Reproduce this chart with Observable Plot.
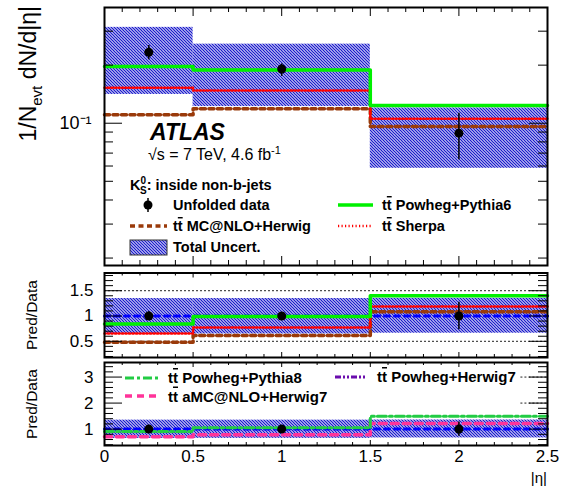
<!DOCTYPE html>
<html><head><meta charset="utf-8">
<script src="https://cdn.jsdelivr.net/npm/d3@7"></script>
<script src="https://cdn.jsdelivr.net/npm/@observablehq/plot@0.6"></script>
<style>
body{margin:0;background:#fff;}
#wrap{position:relative;width:570px;height:490px;font-family:"Liberation Sans",Arial,Helvetica,sans-serif;}
#wrap svg{position:absolute;left:0;overflow:visible;}
</style></head><body><div id="wrap"></div>
<script>
// ---------- data ----------
const binEdges = [0, 0.5, 1.5, 2.5];
const binCenters = [0.25, 1.0, 2.0];
// top panel: 1/N dN/d|eta|
const dataVal = [0.233, 0.191, 0.0888];
const dataErrLo = [0.213, 0.175, 0.0646];
const dataErrHi = [0.253, 0.203, 0.1127];
const uncLo = [0.141, 0.122, 0.0584];
const uncHi = [0.314, 0.257, 0.120];
const powhegPythia6 = [0.197, 0.189, 0.1236];
const mcatnloHerwig = [0.1105, 0.1188, 0.0962];
const sherpa = [0.1525, 0.1476, 0.1054];
// middle ratio panel
const r1Data = [1, 1, 1];
const r1DataLo = [0.914, 0.925, 0.727];
const r1DataHi = [1.086, 1.063, 1.27];
const r1UncLo = [0.645, 0.645, 0.66];
const r1UncHi = [1.345, 1.345, 1.35];
const r1PowhegPythia6 = [0.842, 0.99, 1.40];
const r1McatnloHerwig = [0.48, 0.615, 1.085];
const r1Sherpa = [0.655, 0.775, 1.19];
// bottom ratio panel
const r2Data = [1, 1, 1];
const r2DataLo = [0.914, 0.925, 0.727];
const r2DataHi = [1.086, 1.063, 1.27];
const r2UncLo = [0.645, 0.645, 0.66];
const r2UncHi = [1.345, 1.345, 1.35];
const r2PowhegPythia8 = [0.91, 1.05, 1.49];
const r2AmcatnloHerwig7 = [0.71, 0.78, 1.22];
// tick labels
const xTickLabels = [0, 0.5, 1, 1.5, 2, 2.5];
const topYTickLabels = [0.1];
const r1YTickLabels = [0.5, 1, 1.5];
const r2YTickLabels = [1, 2, 3];
const r1RefLines = [0.5, 1.5];
const r2RefLines = [2, 3];

// ---------- style ----------
const FONT = "Liberation Sans, Arial, Helvetica, sans-serif";
const W = 570, FL = 104, FR = 547, FW = FR - FL;
const HATCH = "url(#hatch)";
const GREEN = "#00f000", BROWN = "#9a3a0a", RED = "#ff0000", BLUE = "#0000ff";
const GREEN2 = "#22cc44", PINK = "#ff3399", PURPLE = "#6a0dad";
const SHERPA_DASH = "1.2,2.3";

const wrap = d3.select("#wrap");
// pattern defs
const defsSvg = wrap.append("svg").attr("width", 0).attr("height", 0).style("top", "0px");
const pat = defsSvg.append("defs").append("pattern").attr("id", "hatch")
  .attr("patternUnits", "userSpaceOnUse").attr("width", 3).attr("height", 3);
pat.append("path").attr("d", "M-1,-1 L4,4 M-1,2 L1,4 M2,-1 L4,1")
  .attr("stroke", "#1c1ccc").attr("stroke-width", 1.3);

function stepRows(vals){ return binEdges.map((x,i)=>({x, y: vals[Math.min(i, vals.length-1)]})); }
function binRows(lo, hi){ return lo.map((l,i)=>({x1: binEdges[i], x2: binEdges[i+1], y1: l, y2: hi[i]})); }
function pointRows(v, lo, hi){ return binCenters.map((x,i)=>({x, y: v[i], lo: lo[i], hi: hi[i]})); }

const xMajor = xTickLabels;
const xMinor = d3.range(0, 25).map(i => i / 10).filter(v => Math.abs(v * 2 - Math.round(v * 2)) > 1e-6);

function tickMarks(fh, yMaj, yMin, xLen) {
  const s = {stroke: "black", strokeWidth: 1};
  return [
    Plot.tickY(yMaj, {y: d => d, insetRight: FW - 18, ...s}),
    Plot.tickY(yMaj, {y: d => d, insetLeft: FW - 18, ...s}),
    Plot.tickY(yMin, {y: d => d, insetRight: FW - 9, ...s}),
    Plot.tickY(yMin, {y: d => d, insetLeft: FW - 9, ...s}),
    Plot.tickX(xMajor, {x: d => d, insetTop: fh - xLen[0], ...s}),
    Plot.tickX(xMajor, {x: d => d, insetBottom: fh - xLen[0], ...s}),
    Plot.tickX(xMinor, {x: d => d, insetTop: fh - xLen[1], ...s}),
    Plot.tickX(xMinor, {x: d => d, insetBottom: fh - xLen[1], ...s})
  ];
}
function place(svgNode, top) {
  svgNode.style.position = "absolute";
  svgNode.style.top = top + "px";
  svgNode.style.left = "0px";
  wrap.node().appendChild(svgNode);
}
const lineOpts = {x: "x", y: "y", curve: "step-after"};

// ---------- top panel ----------
const topH = 266, topMT = 7, topMB = 1;
const topMinor = [0.02,0.03,0.04,0.05,0.06,0.07,0.08,0.09,0.2,0.3];
const topPlot = Plot.plot({
  width: W, height: topH, marginLeft: FL, marginRight: W - FR, marginTop: topMT, marginBottom: topMB,
  style: {fontFamily: FONT, background: "transparent", overflow: "visible"},
  x: {domain: [0, 2.5], axis: null},
  y: {type: "log", domain: [0.0183, 0.398], axis: null},
  marks: [
    Plot.rect(binRows(uncLo, uncHi), {x1: "x1", x2: "x2", y1: "y1", y2: "y2", fill: HATCH}),
    Plot.line(stepRows(mcatnloHerwig), {...lineOpts, stroke: BROWN, strokeWidth: 3.5, strokeDasharray: "5,3.5"}),
    Plot.line(stepRows(sherpa), {...lineOpts, stroke: RED, strokeWidth: 2.5, strokeDasharray: SHERPA_DASH}),
    Plot.line(stepRows(powhegPythia6), {...lineOpts, stroke: GREEN, strokeWidth: 3.5}),
    Plot.ruleX(pointRows(dataVal, dataErrLo, dataErrHi), {x: "x", y1: "lo", y2: "hi", stroke: "black", strokeWidth: 1.5}),
    Plot.dot(pointRows(dataVal, dataErrLo, dataErrHi), {x: "x", y: "y", r: 4.5, fill: "black"}),
    ...tickMarks(topH - topMT - topMB, topYTickLabels, topMinor, [9, 5]),
    Plot.frame({stroke: "black", strokeWidth: 2}),
    Plot.axisY(topYTickLabels, {anchor: "left", tickSize: 0, tickPadding: 13, label: null, fontSize: 18, tickFormat: () => "10⁻¹"})
  ]
});
place(topPlot, 0);

// ---------- middle ratio panel ----------
const midTop = 270, midH = 89, midMT = 2.5, midMB = 2;
const midMinor = d3.range(2, 19).map(i => i / 10).filter(v => !r1YTickLabels.some(t => Math.abs(t - v) < 1e-6));
const midPlot = Plot.plot({
  width: W, height: midH, marginLeft: FL, marginRight: W - FR, marginTop: midMT, marginBottom: midMB,
  style: {fontFamily: FONT, background: "transparent", overflow: "visible"},
  x: {domain: [0, 2.5], axis: null},
  y: {domain: [0.18, 1.85], axis: null},
  marks: [
    Plot.ruleY(r1RefLines, {y: d => d, stroke: "#222", strokeWidth: 1, strokeDasharray: "2,2"}),
    Plot.rect(binRows(r1UncLo, r1UncHi), {x1: "x1", x2: "x2", y1: "y1", y2: "y2", fill: HATCH}),
    Plot.line(stepRows(r1Data), {...lineOpts, stroke: BLUE, strokeWidth: 3, strokeDasharray: "5,5"}),
    Plot.line(stepRows(r1McatnloHerwig), {...lineOpts, stroke: BROWN, strokeWidth: 3.5, strokeDasharray: "5,3.5"}),
    Plot.line(stepRows(r1Sherpa), {...lineOpts, stroke: RED, strokeWidth: 2.5, strokeDasharray: SHERPA_DASH}),
    Plot.line(stepRows(r1PowhegPythia6), {...lineOpts, stroke: GREEN, strokeWidth: 3.5}),
    Plot.ruleX(pointRows(r1Data, r1DataLo, r1DataHi), {x: "x", y1: "lo", y2: "hi", stroke: "black", strokeWidth: 1.5}),
    Plot.dot(pointRows(r1Data, r1DataLo, r1DataHi), {x: "x", y: "y", r: 4.5, fill: "black"}),
    ...tickMarks(midH - midMT - midMB, r1YTickLabels, midMinor, [5, 3]),
    Plot.frame({stroke: "black", strokeWidth: 2}),
    Plot.axisY(r1YTickLabels, {anchor: "left", tickSize: 0, tickPadding: 11, label: null, fontSize: 17, tickFormat: d => String(d)})
  ]
});
place(midPlot, midTop);

// ---------- bottom ratio panel ----------
const botTop = 360, botH = 130, botMT = 2, botMB = 45;
const botMinor = d3.range(2, 18).map(i => i / 5).filter(v => !r2YTickLabels.some(t => Math.abs(t - v) < 1e-6));
const botPlot = Plot.plot({
  width: W, height: botH, marginLeft: FL, marginRight: W - FR, marginTop: botMT, marginBottom: botMB,
  style: {fontFamily: FONT, background: "transparent", overflow: "visible"},
  x: {domain: [0, 2.5], axis: null},
  y: {domain: [0.37, 3.56], axis: null},
  marks: [
    Plot.ruleY(r2RefLines, {y: d => d, x1: 2.35, x2: 2.5, stroke: "#222", strokeWidth: 1, strokeDasharray: "2,2"}),
    Plot.rect(binRows(r2UncLo, r2UncHi), {x1: "x1", x2: "x2", y1: "y1", y2: "y2", fill: HATCH}),
    Plot.line(stepRows(r2Data), {...lineOpts, stroke: BLUE, strokeWidth: 3, strokeDasharray: "5,5"}),
    Plot.line(stepRows(r2AmcatnloHerwig7), {...lineOpts, stroke: PINK, strokeWidth: 3.5, strokeDasharray: "7,5"}),
    Plot.line(stepRows(r2PowhegPythia8), {...lineOpts, stroke: GREEN2, strokeWidth: 3, strokeDasharray: "9,3,3,3"}),
    Plot.ruleX(pointRows(r2Data, r2DataLo, r2DataHi), {x: "x", y1: "lo", y2: "hi", stroke: "black", strokeWidth: 1.5}),
    Plot.dot(pointRows(r2Data, r2DataLo, r2DataHi), {x: "x", y: "y", r: 4.5, fill: "black"}),
    ...tickMarks(botH - botMT - botMB, r2YTickLabels, botMinor, [5, 3]),
    Plot.frame({stroke: "black", strokeWidth: 2}),
    Plot.axisY(r2YTickLabels, {anchor: "left", tickSize: 0, tickPadding: 11, label: null, fontSize: 17, tickFormat: d => String(d)}),
    Plot.axisX(xTickLabels, {anchor: "bottom", tickSize: 0, tickPadding: 4, label: null, fontSize: 17, tickFormat: d => String(d)})
  ]
});
place(botPlot, botTop);

// ---------- overlay texts & legends ----------
const ov = wrap.append("svg").attr("width", W).attr("height", 490).style("top", "0px")
  .style("pointer-events", "none").attr("font-family", FONT);

// y titles
const yt = ov.append("text").attr("transform", "translate(36,6) rotate(-90)")
  .attr("text-anchor", "end").attr("font-size", 23).attr("fill", "black");
yt.append("tspan").text("1/N");
yt.append("tspan").attr("font-size", 15).attr("dy", 6).text("evt");
yt.append("tspan").attr("dy", -6).text(" dN/d|η|");
ov.append("text").attr("transform", "translate(37,315) rotate(-90)").attr("text-anchor", "middle")
  .attr("font-size", 15.5).text("Pred/Data");
ov.append("text").attr("transform", "translate(37,404) rotate(-90)").attr("text-anchor", "middle")
  .attr("font-size", 15.5).text("Pred/Data");
ov.append("text").attr("x", 547).attr("y", 483).attr("text-anchor", "end").attr("font-size", 15).text("|η|");

// ATLAS label
ov.append("text").attr("x", 150).attr("y", 140).attr("font-size", 23).attr("font-weight", "bold")
  .attr("font-style", "italic").text("ATLAS");
const en = ov.append("text").attr("x", 148).attr("y", 160).attr("font-size", 16);
en.append("tspan").text("√s = 7 TeV, 4.6 fb");
en.append("tspan").attr("font-size", 11).attr("dy", -6).text("-1");

// K0S header
const kh = ov.append("text").attr("x", 130).attr("y", 190).attr("font-size", 14.5).attr("font-weight", "bold");
kh.append("tspan").text("K");
kh.append("tspan").attr("font-size", 10).attr("dy", -6).text("0");
kh.append("tspan").attr("font-size", 10).attr("dx", -6).attr("dy", 10).text("S");
kh.append("tspan").attr("dy", -4).text(": inside non-b-jets");

function ttLabel(g, x, y, rest, size) {
  const t = g.append("text").attr("x", x).attr("y", y).attr("font-size", size).attr("font-weight", "bold");
  t.append("tspan").text("t");
  t.append("tspan").attr("style", "text-decoration: overline").text("t");
  t.append("tspan").text(" " + rest);
}
// top legend
ov.append("line").attr("x1", 148).attr("x2", 148).attr("y1", 198).attr("y2", 212).attr("stroke", "black").attr("stroke-width", 1.5);
ov.append("circle").attr("cx", 148).attr("cy", 205).attr("r", 4.5).attr("fill", "black");
ov.append("text").attr("x", 173).attr("y", 210).attr("font-size", 14.5).attr("font-weight", "bold").text("Unfolded data");
ov.append("line").attr("x1", 338).attr("x2", 373).attr("y1", 205).attr("y2", 205).attr("stroke", GREEN).attr("stroke-width", 3.5);
ttLabel(ov, 382, 210, "Powheg+Pythia6", 14.5);
ov.append("line").attr("x1", 130).attr("x2", 167).attr("y1", 226).attr("y2", 226).attr("stroke", BROWN).attr("stroke-width", 3.5).attr("stroke-dasharray", "5,3.5");
ttLabel(ov, 173, 231, "MC@NLO+Herwig", 14.5);
ov.append("line").attr("x1", 338).attr("x2", 373).attr("y1", 226).attr("y2", 226).attr("stroke", RED).attr("stroke-width", 2.5).attr("stroke-dasharray", SHERPA_DASH);
ttLabel(ov, 382, 231, "Sherpa", 14.5);
ov.append("rect").attr("x", 130).attr("y", 240).attr("width", 37).attr("height", 15).attr("fill", HATCH).attr("stroke", "#333").attr("stroke-width", 1);
ov.append("text").attr("x", 173).attr("y", 252).attr("font-size", 14.5).attr("font-weight", "bold").text("Total Uncert.");

// bottom legend
ov.append("line").attr("x1", 125).attr("x2", 160).attr("y1", 378).attr("y2", 378).attr("stroke", GREEN2).attr("stroke-width", 3).attr("stroke-dasharray", "9,3,3,3");
ttLabel(ov, 168, 383, "Powheg+Pythia8", 15);
ov.append("line").attr("x1", 125).attr("x2", 160).attr("y1", 396).attr("y2", 396).attr("stroke", PINK).attr("stroke-width", 3.5).attr("stroke-dasharray", "7,5");
ttLabel(ov, 168, 401.5, "aMC@NLO+Herwig7", 15);
ov.append("line").attr("x1", 335).attr("x2", 367).attr("y1", 377).attr("y2", 377).attr("stroke", PURPLE).attr("stroke-width", 3).attr("stroke-dasharray", "6,2,2,2,2,2");
ttLabel(ov, 377, 382, "Powheg+Herwig7", 15);
</script></body></html>
